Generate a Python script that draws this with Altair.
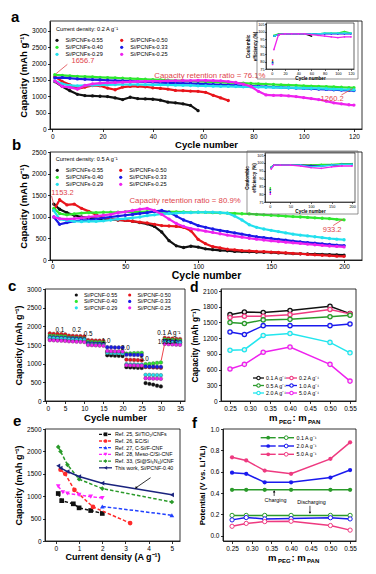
import altair as alt
import pandas as pd

FONT = "Liberation Sans"
RED_TXT = "#e0454b"

# ---------------- (a) cycling at 0.2 A/g ----------------
SAMPLES_A = ["Si/PCNFs-0.55", "Si/PCNFs-0.50", "Si/PCNFs-0.40",
             "Si/PCNFs-0.33", "Si/PCNFs-0.29", "Si/PCNFs-0.25"]
COLORS_6 = ["#111111", "#e8141b", "#2ee82e", "#1a1ae6", "#22e0ee", "#ee22ee"]
CYC_A = [1, 4, 7, 10, 13, 16, 19, 22, 25, 28, 31, 34, 37, 40, 43, 46, 49, 52, 55, 58,
         61, 64, 67, 70, 73, 76, 79, 82, 85, 88, 91, 94, 97, 100, 103, 106, 109, 112, 115, 118, 120]
A_055 = [1450, 1300, 1170, 1060, 1020, 1010, 1000, 990, 950, 900,
         970, 930, 920, 910, 880, 820, 800, 770, 720, 560]
A_050 = [1600, 1450, 1350, 1230, 1280, 1330, 1320, 1250, 1200, 1280,
         1300, 1300, 1290, 1260, 1240, 1220, 1180, 1170, 1160, 1150,
         1120, 1030, 950, 870]
A_040 = [1657, 1640, 1625, 1610, 1600, 1590, 1580, 1570, 1560, 1550,
         1540, 1530, 1520, 1510, 1500, 1490, 1480, 1470, 1460, 1455,
         1445, 1435, 1425, 1415, 1405, 1400, 1390, 1380, 1370, 1360,
         1350, 1340, 1330, 1320, 1310, 1300, 1295, 1285, 1275, 1265, 1260]
A_033 = [1560, 1570, 1550, 1530, 1520, 1510, 1500, 1490, 1480, 1470,
         1460, 1450, 1440, 1430, 1420, 1410, 1400, 1395, 1390, 1380,
         1370, 1360, 1350, 1340, 1330, 1320, 1310, 1300, 1290, 1280,
         1270, 1260, 1250, 1240, 1230, 1220, 1210, 1200, 1190, 1180, 1175]
A_029 = [1470, 1380, 1330, 1320, 1330, 1340, 1350, 1350, 1355, 1360,
         1360, 1360, 1355, 1350, 1350, 1345, 1340, 1335, 1330, 1320,
         1315, 1310, 1305, 1300, 1295, 1290, 1285, 1280, 1275, 1270,
         1265, 1260, 1255, 1250, 1245, 1240, 1230, 1220, 1210, 1200, 1195]
A_025 = [1470, 1300, 1270, 1220, 1330, 1380, 1400, 1410, 1420, 1430,
         1440, 1450, 1455, 1460, 1465, 1470, 1475, 1480, 1480, 1485,
         1485, 1480, 1470, 1450, 1420, 1370, 1300, 1150, 1040, 1030,
         1030, 1010, 990, 960, 930, 900, 850, 800, 770, 740, 730]
CAP_A = [A_055, A_050, A_040, A_033, A_029, A_025]

ICYC_A = [1, 3, 10, 20, 30, 40, 50, 60, 70, 80, 90, 100, 110, 120]
IA_055 = [79, 97, 98, 98.5, 98.5, 98.5, 98.5, 97]
IA_050 = [81, 97, 98, 98.5, 98.5, 98.5, 98.5, 98.5, 98.5]
IA_040 = [80, 97.5, 98.5, 98.5, 98.5, 98.5, 98.5, 98.5, 98.5, 99, 99, 99, 100, 99]
IA_033 = [79.5, 97, 98, 98.5, 98.5, 98.5, 98.5, 98.5, 98.5, 98.5, 98.5, 98.5, 98.5, 98.5]
IA_029 = [78.5, 97, 98, 98.5, 98.5, 98.5, 98.5, 98.5, 98.5, 99, 99, 99, 99, 99]
IA_025 = [78, 88, 98, 98.5, 98.5, 98.5, 98.5, 98, 97.5, 97, 96.5, 96, 96.5, 96.5]
CE_A = [IA_055, IA_050, IA_040, IA_033, IA_029, IA_025]

# ---------------- (b) cycling at 0.5 A/g ----------------
CYC_B = [1, 5, 10, 15, 20, 25, 30, 35, 40, 45, 50, 55, 60, 65, 70, 75, 80, 85, 90, 95,
         100, 105, 110, 115, 120, 125, 130, 135, 140, 145, 150, 155, 160, 165, 170, 175,
         180, 185, 190, 195, 200]
B_055 = [1300, 1180, 1100, 1040, 1000, 980, 960, 950, 940, 930,
         920, 900, 870, 840, 780, 650, 450, 330, 290, 320,
         300, 260, 240, 225, 215, 200, 195, 190, 185, 180,
         175, 165, 160, 150, 145, 140, 135, 130, 125, 120, 115]
B_050 = [1153, 1400, 1280, 1300, 1200, 1130, 1050, 980, 950, 930,
         920, 900, 880, 860, 830, 800, 790, 780, 760, 680,
         480, 380, 310, 280, 250, 235, 220, 210, 200, 195,
         185, 175, 165, 155, 145, 130, 120, 110, 100, 90, 85]
B_040 = [1200, 1080, 1050, 1070, 1090, 1100, 1100, 1110, 1110, 1110,
         1120, 1120, 1120, 1125, 1125, 1125, 1120, 1120, 1115, 1110,
         1110, 1105, 1100, 1095, 1090, 1085, 1075, 1070, 1060, 1050,
         1040, 1030, 1020, 1010, 1000, 990, 980, 970, 960, 945, 933]
B_033 = [1000, 830, 870, 900, 920, 930, 950, 980, 1000, 1020,
         1040, 1060, 1080, 1100, 1130, 1150, 1110, 1020, 930, 870,
         800, 760, 720, 690, 660, 630, 600, 570, 540, 520,
         500, 480, 460, 440, 420, 405, 390, 375, 360, 345, 335]
B_029 = [1150, 950, 920, 900, 890, 900, 900, 910, 930, 950,
         960, 980, 1000, 1030, 1050, 1070, 1080, 1090, 1100, 1100,
         1110, 1110, 1110, 1100, 1090, 1020, 930, 820, 760, 720,
         690, 660, 630, 600, 580, 560, 540, 520, 500, 485, 470]
B_025 = [1000, 960, 950, 960, 980, 1000, 1020, 1040, 1060, 1100,
         1120, 1150, 1180, 1200, 1150, 1060, 950, 850, 780, 730,
         700, 670, 640, 610, 580, 555, 530, 505, 485, 465,
         445, 430, 415, 400, 385, 370, 355, 340, 325, 315, 305]
CAP_B = [B_055, B_050, B_040, B_033, B_029, B_025]

ICYC_B = [1, 3, 10, 25, 50, 75, 100, 125, 150, 175, 200]
IB_055 = [83, 97, 98.5, 98.5, 98.5, 98.5, 98.5, 98.5, 98.5, 99, 99]
IB_050 = [82, 97, 98.5, 98.5, 98.5, 98.5, 98, 98.5, 98.5, 99, 99]
IB_040 = [84, 97.5, 98.5, 98.5, 98.5, 98.5, 98.5, 99, 99, 99.5, 99.5]
IB_033 = [81, 97, 98.5, 98.5, 98.5, 98.5, 98, 98, 98.5, 99, 99]
IB_029 = [82.5, 97, 98.5, 98.5, 98.5, 98.5, 97.5, 98, 98.5, 99, 99]
IB_025 = [80, 96, 98.5, 98.5, 98.5, 98, 97, 96.5, 97.5, 98, 98]
CE_B = [IB_055, IB_050, IB_040, IB_033, IB_029, IB_025]

# ---------------- (c) rate performance ----------------
SAMPLES_C = ["Si/PCNF-0.55", "Si/PCNF-0.50", "Si/PCNF-0.40",
             "Si/PCNF-0.33", "Si/PCNF-0.29", "Si/PCNF-0.25"]
CYC_C = list(range(1, 36))
C_055 = [1660, 1655, 1650, 1645, 1640, 1635, 1630, 1625, 1620, 1615,
         1570, 1565, 1560, 1555, 1550, 1225, 1220, 1215, 1210, 1205,
         905, 900, 895, 890, 885, 480, 460, 440, 410, 390,
         1600, 1590, 1580, 1575, 1570]
C_050 = [1810, 1800, 1795, 1790, 1785, 1750, 1745, 1740, 1735, 1730,
         1630, 1625, 1620, 1615, 1610, 1300, 1295, 1290, 1285, 1280,
         1110, 1105, 1100, 1095, 1090, 910, 905, 900, 895, 890,
         1690, 1680, 1670, 1665, 1660]
C_040 = [1750, 1745, 1740, 1735, 1730, 1700, 1695, 1690, 1685, 1680,
         1590, 1585, 1580, 1575, 1570, 1320, 1315, 1310, 1305, 1300,
         1270, 1275, 1280, 1285, 1290, 985, 995, 1005, 1020, 1033,
         1650, 1640, 1635, 1630, 1625]
C_033 = [1710, 1705, 1700, 1695, 1690, 1680, 1675, 1670, 1665, 1660,
         1550, 1545, 1540, 1535, 1530, 1440, 1440, 1435, 1435, 1430,
         1240, 1240, 1235, 1235, 1230, 925, 920, 920, 915, 915,
         1610, 1600, 1595, 1590, 1585]
C_029 = [1690, 1685, 1680, 1675, 1670, 1655, 1650, 1645, 1640, 1635,
         1520, 1515, 1510, 1505, 1500, 1290, 1285, 1280, 1280, 1275,
         985, 980, 980, 975, 975, 700, 700, 695, 695, 690,
         1580, 1570, 1565, 1560, 1555]
C_025 = [1630, 1625, 1620, 1615, 1610, 1600, 1595, 1590, 1585, 1580,
         1500, 1495, 1490, 1485, 1480, 1340, 1335, 1330, 1330, 1325,
         960, 955, 955, 950, 950, 610, 605, 600, 600, 595,
         1530, 1520, 1515, 1510, 1505]
CAP_C = [C_055, C_050, C_040, C_033, C_029, C_025]
RATE_LABELS = ["0.1", "0.2", "0.5", "1.0", "2.0", "5.0", "0.1 A g⁻¹"]

# ---------------- (d) capacity vs mass ratio ----------------
RATIO = [0.25, 0.286, 0.333, 0.40, 0.50, 0.55]
RATES_D = ["0.1 A g⁻¹", "0.2 A g⁻¹", "0.5 A g⁻¹", "1.0 A g⁻¹", "2.0 A g⁻¹", "5.0 A g⁻¹"]
COLORS_D = ["#111111", "#ee3a80", "#2a9a2a", "#1a1aee", "#22e6ee", "#ee22ee"]
D_01 = [1650, 1700, 1690, 1730, 1810, 1670]
D_02 = [1595, 1620, 1620, 1650, 1750, 1665]
D_05 = [1500, 1480, 1550, 1560, 1610, 1640]
D_10 = [1320, 1270, 1440, 1440, 1440, 1470]
D_20 = [970, 980, 1250, 1290, 1120, 920]
D_50 = [610, 700, 930, 1030, 700, 380]
CAP_D = [D_01, D_02, D_05, D_10, D_20, D_50]

# ---------------- (e) comparison with literature ----------------
REFS_E = ["Ref. 25, Si/TiO₂/CNFs", "Ref. 26, EC/Si", "Ref. 27, C-Si/F-CNF",
          "Ref. 28, Meso-C/Si-CNF", "Ref. 33, (Si@Si₃N₄)/CNF", "This work, Si/PCNF-0.40"]
COLORS_E = ["#111111", "#ff2a2a", "#2040ff", "#ff22ff", "#2a9a2a", "#1a237e"]
SHAPES_E = ["square", "circle", "triangle-up", "triangle-down", "diamond", "triangle-left"]
E_X = [[0.1, 0.25, 0.75, 1.0, 1.5, 2.0],
       [0.2, 0.4, 0.8, 1.6, 3.2],
       [2.0, 5.0],
       [0.1, 0.3, 0.5, 1.0, 1.5, 2.0],
       [0.1, 0.2, 0.5, 1.0, 2.0, 5.0],
       [0.1, 0.2, 0.5, 1.0, 2.0, 5.0]]
E_Y = [[1060, 900, 830, 740, 680, 615],
       [1590, 1500, 1140, 760, 400],
       [770, 575],
       [1220, 1090, 1060, 1030, 990, 960],
       [2100, 2000, 1700, 1380, 1170, 870],
       [1680, 1630, 1550, 1440, 1290, 1030]]

# ---------------- (f) charge / discharge potentials ----------------
RATES_F = ["0.1 A g⁻¹", "2.0 A g⁻¹", "5.0 A g⁻¹"]
COLORS_F = ["#2a9a2a", "#1a1aee", "#ee3a80"]
F_CHARGE = [[0.43, 0.43, 0.43, 0.43, 0.43, 0.43],
            [0.59, 0.58, 0.50, 0.50, 0.545, 0.615],
            [0.735, 0.705, 0.61, 0.58, 0.72, 0.875]]
F_DISCHARGE = [[0.19, 0.19, 0.19, 0.19, 0.19, 0.19],
               [0.148, 0.17, 0.157, 0.16, 0.168, 0.157],
               [0.088, 0.115, 0.132, 0.135, 0.095, 0.052]]

# ================= layout (pixels inside one shared canvas) =================
W, H = 317, 520
PANEL = {  # x0, y0, width, height
    "a": (5, 0, 312, 108),
    "b": (5, 131, 312, 108),
    "c": (0, 268, 140, 112),
    "d": (176, 268, 135, 112),
    "e": (0, 408, 135, 112),
    "f": (178, 408, 133, 112),
}


# ================= helpers =================
def one(t=""):
    return pd.DataFrame({"t": [t]})


def xy(xs, ys):
    return pd.DataFrame({"x": list(xs)[:len(ys)], "y": list(ys)})


def label(text, x, y, size=6, color="black", bold=False, align="left",
          baseline="middle"):
    return alt.Chart(one(text)).mark_text(
        fontSize=size, color=color, align=align, baseline=baseline, font=FONT,
        fontWeight="bold" if bold else "normal").encode(
        x=alt.value(x), y=alt.value(y), text="t:N")


def dlabel(text, x, y, size=7, color=RED_TXT, align="center"):
    return alt.Chart(one(text)).mark_text(
        fontSize=size, color=color, align=align, baseline="middle", font=FONT).encode(
        x=alt.datum(x), y=alt.datum(y), text="t:N")


def dline(x1, y1, x2, y2, color=RED_TXT, width=0.8):
    return alt.Chart(one()).mark_rule(color=color, strokeWidth=width).encode(
        x=alt.datum(x1), y=alt.datum(y1), x2=alt.datum(x2), y2=alt.datum(y2))


def dhead(x, y, angle, color="black", size=7):
    return alt.Chart(one()).mark_point(shape="triangle-up", filled=True, color=color,
                                       size=size, angle=angle, opacity=1).encode(
        x=alt.datum(x), y=alt.datum(y))


def lpoint(x, y, color, shape="circle", size=10, open_=False, sw=1.0):
    if open_:
        m = alt.Chart(one()).mark_point(shape=shape, size=size, filled=True, fill="white",
                                        stroke=color, strokeWidth=sw, opacity=1)
    else:
        m = alt.Chart(one()).mark_point(shape=shape, size=size, filled=True,
                                        color=color, opacity=1)
    return m.encode(x=alt.value(x), y=alt.value(y))


def lrule(x1, x2, y, color, width=1.3, dash=None):
    kw = dict(color=color, strokeWidth=width)
    if dash:
        kw["strokeDash"] = dash
    return alt.Chart(one()).mark_rule(**kw).encode(
        x=alt.value(x1), x2=alt.value(x2), y=alt.value(y))


def frame(x0, y0, x1, y1, stroke="black", sw=0.8):
    return alt.Chart(one()).mark_rect(stroke=stroke, strokeWidth=sw, fillOpacity=0).encode(
        x=alt.value(x0), x2=alt.value(x1), y=alt.value(y0), y2=alt.value(y1))


def axes(key, xdom, xticks, xtitle, ydom, yticks, ytitle, xfmt="d", yfmt="d",
         xts=9.5, yts=9, xtp=1, ytp=3, xlp=1.5):
    x0, y0, w, h = PANEL[key]
    xa = dict(orient="bottom", offset=-(H - (y0 + h)), values=xticks, title=xtitle,
              titleFontSize=xts, titlePadding=xtp, format=xfmt, labelPadding=xlp)
    ya = dict(orient="left", offset=-x0, values=yticks, title=ytitle,
              titleFontSize=yts, titlePadding=ytp, format=yfmt)
    X = alt.X("x:Q", scale=alt.Scale(domain=xdom, range=[x0, x0 + w], nice=False, zero=False),
              axis=alt.Axis(**xa))
    Y = alt.Y("y:Q", scale=alt.Scale(domain=ydom, range=[y0 + h, y0], nice=False, zero=False),
              axis=alt.Axis(**ya))
    return X, Y


def inset(cyc, ce_lists, xdom, xr, ydom, yr, xticks, outer):
    XI = alt.X("x:Q", scale=alt.Scale(domain=xdom, range=xr, nice=False, zero=False),
               axis=alt.Axis(orient="bottom", offset=-(H - yr[0]), values=xticks, format="d",
                             title="Cycle number", labelFontSize=3.8, titleFontSize=4.6,
                             tickSize=1.5, labelPadding=0.5, titlePadding=0.3,
                             domainWidth=0.6, tickWidth=0.6, zindex=2))
    YI = alt.Y("y:Q", scale=alt.Scale(domain=ydom, range=yr, nice=False, zero=False),
               axis=alt.Axis(orient="left", offset=-xr[0], format="d",
                             values=[75, 80, 85, 90, 95, 100, 105],
                             title=["Coulombic", "efficiency (%)"], labelFontSize=3.8,
                             titleFontSize=4.6, tickSize=1.5, labelPadding=0.5,
                             titlePadding=0.5, domainWidth=0.6, tickWidth=0.6, zindex=2))
    lay = [frame(*outer, stroke="#666666", sw=0.7),
           frame(xr[0], yr[1], xr[1], yr[0], stroke="black", sw=0.6)]
    for vals, col in zip(ce_lists, COLORS_6):
        d = xy(cyc, vals)
        lay.append(alt.Chart(d.iloc[1:]).mark_line(color=col, strokeWidth=1.3).encode(x=XI, y=YI))
        lay.append(alt.Chart(d).mark_circle(color=col, size=3, opacity=1).encode(x=XI, y=YI))
    return alt.layer(*lay)


def legend6(names, colors, x0, dx, y0, dy, tx, size=5.6):
    lay = []
    for i, (n, c) in enumerate(zip(names, colors)):
        r, k = divmod(i, 2)
        lay.append(lpoint(x0 + k * dx, y0 + r * dy, c, size=10))
        lay.append(label(n, x0 + k * dx + tx, y0 + r * dy, size=size))
    return lay


def pframe(key):
    x0, y0, w, h = PANEL[key]
    return frame(x0, y0, x0 + w, y0 + h)


# ================= panel a =================
ay0 = PANEL["a"][1]
XA, YA = axes("a", [-0.9, 123.2], list(range(0, 121, 20)), "Cycle number",
              [0, 3300], [0, 500, 1000, 1500, 2000, 2500, 3000], "Capacity (mAh g⁻¹)",
              xts=9.5, yts=9.5, xtp=0)
la = [pframe("a")]
for vals, col in zip(CAP_A, COLORS_6):
    d = xy(CYC_A, vals)
    la.append(alt.Chart(d).mark_line(color=col, strokeWidth=2.2).encode(x=XA, y=YA))
    la.append(alt.Chart(d).mark_circle(color=col, size=11, opacity=1).encode(x=XA, y=YA))
la += [
    dline(6.0, 1975, 1.5, 1690),
    dlabel("1656.7", 12.2, 2065, size=7.5),
    dlabel("Capacity retention ratio = 76.1%", 62.7, 1627, size=7.8),
    dline(115, 1040, 119.5, 1235),
    dlabel("1260.2", 111.3, 923, size=7.5),
    label("Current density: 0.2 A g⁻¹", 11, ay0 + 8, size=5.6),
    label("a", -34, ay0 + 1, size=15, bold=True, baseline="alphabetic"),
]
la += legend6(SAMPLES_A, COLORS_6, 12, 64.7, ay0 + 19.3, 7, 8.5)
ins_a = inset(ICYC_A, CE_A, [-9, 124.5], [221, 309], [75, 105.7], [48, 2],
              list(range(0, 121, 20)), (212, 0, 313, 58))
ga = alt.layer(*la)

# ================= panel b =================
by0 = PANEL["b"][1]
XB, YB = axes("b", [-1.6, 212.3], [0, 50, 100, 150, 200], "Cycle number",
              [0, 2510], [0, 500, 1000, 1500, 2000, 2500], "Capacity (mAh g⁻¹)",
              xts=10.5, yts=9.5, xtp=0, xlp=1)
lb = [pframe("b")]
for vals, col in zip(CAP_B, COLORS_6):
    d = xy(CYC_B, vals)
    lb.append(alt.Chart(d).mark_line(color=col, strokeWidth=2.2).encode(x=XB, y=YB))
    lb.append(alt.Chart(d).mark_circle(color=col, size=11, opacity=1).encode(x=XB, y=YB))
lb += [
    dline(-0.5, 1490, 1.2, 1250),
    dlabel("1153.2", 7.0, 1563, size=7.5),
    dlabel("Capacity retention ratio = 80.9%", 91, 1377, size=7.8),
    dline(192.5, 800, 199.5, 950),
    dlabel("933.2", 191.8, 704, size=7.5),
    label("Current density: 0.5 A g⁻¹", 10.7, by0 + 7.3, size=5.6),
    label("b", -33, by0 - 2, size=15, bold=True, baseline="alphabetic"),
]
lb += legend6(SAMPLES_A, COLORS_6, 12.3, 63.4, by0 + 18.3, 7, 8.5)
ins_b = inset(ICYC_B, CE_B, [-12, 207], [220, 310], [75, 106.3], [by0 + 50, by0 + 1],
              [0, 50, 100, 150, 200], (202, by0 - 1, 313, by0 + 62))
gb = alt.layer(*lb)

# ================= panel c =================
cx0, cy0 = PANEL["c"][:2]
XC, YC = axes("c", [-0.26, 36.3], [0, 5, 10, 15, 20, 25, 30, 35], "Cycle number",
              [0, 3000], [0, 500, 1000, 1500, 2000, 2500, 3000], "Capacity (mAh g⁻¹)",
              xts=9.5, yts=9, xtp=1)
lc = [pframe("c")]
for vals, col in zip(CAP_C, COLORS_6):
    d = xy(CYC_C, vals)
    lc.append(alt.Chart(d).mark_point(shape="circle", filled=True, fill=col, stroke="#333333",
                                      strokeWidth=0.3, size=14, opacity=1).encode(x=XC, y=YC))
RATE_POS = [(3.6, 1900), (8.0, 1900), (11.0, 1786), (15.7, 1607), (20.7, 1428),
            (25.7, 1133), (32.1, 1830)]
for t, (px, py) in zip(RATE_LABELS, RATE_POS):
    lc.append(dlabel(t, px, py, size=6.3, color="black"))
lc += [
    dlabel("1033.4", 31.7, 1580, size=6.3, color="black"),
    dline(30.9, 1490, 30.1, 1090, color="#e8141b", width=0.8),
    label("c", cx0 - 37, cy0 + 2, size=15, bold=True, baseline="alphabetic"),
]
lc += legend6(SAMPLES_C, COLORS_6, cx0 + 31.3, 53.4, cy0 + 6, 6.4, 7.7, size=5.4)
gc = alt.layer(*lc)

# ================= panel d =================
dx0, dy0 = PANEL["d"][:2]
XD, YD = axes("d", [0.2275, 0.565], [0.25, 0.30, 0.35, 0.40, 0.45, 0.50, 0.55], None,
              [0, 2140], [0, 300, 600, 900, 1200, 1500, 1800, 2100], "Capacity (mAh g⁻¹)",
              xfmt=".2f", yts=8.3)
ld = [pframe("d")]
for vals, col in zip(CAP_D, COLORS_D):
    d = xy(RATIO, vals)
    ld.append(alt.Chart(d).mark_line(color=col, strokeWidth=1.5).encode(x=XD, y=YD))
    ld.append(alt.Chart(d).mark_point(shape="circle", size=18, filled=True, fill="#eeeeee",
                                      stroke=col, strokeWidth=1.3, opacity=1).encode(x=XD, y=YD))
for i, (n, col) in enumerate(zip(RATES_D, COLORS_D)):
    r, k = divmod(i, 2)
    lx = dx0 + 32 + k * 33
    yy = dy0 + 89 + r * 7.5
    ld.append(lrule(lx, lx + 11, yy, col, width=1.3))
    ld.append(lpoint(lx + 5.5, yy, col, size=12, open_=True, sw=1.1))
    ld.append(label(n, lx + 13, yy, size=5.3))
ld += [
    label("d", dx0 - 31, dy0 + 3, size=14, bold=True, baseline="alphabetic"),
    label("m", dx0 + 48, dy0 + 132, size=9.5, bold=True, baseline="alphabetic"),
    label("PEG", dx0 + 58, dy0 + 134.5, size=6, bold=True, baseline="alphabetic"),
    label(": m", dx0 + 71.5, dy0 + 132, size=9.5, bold=True, baseline="alphabetic"),
    label("PAN", dx0 + 87, dy0 + 134.5, size=6, bold=True, baseline="alphabetic"),
]
gd = alt.layer(*ld)

# ================= panel e =================
ex0, ey0 = PANEL["e"][:2]
XE, YE = axes("e", [-0.47, 5.35], [0, 1, 2, 3, 4, 5], "Current density (A g⁻¹)",
              [0, 2500], [0, 500, 1000, 1500, 2000, 2500], "Capacity (mAh g⁻¹)",
              xts=9, yts=9, xtp=1)
le = [pframe("e")]
for i, (xs, ys, col, shp) in enumerate(zip(E_X, E_Y, COLORS_E, SHAPES_E)):
    d = xy(xs, ys)
    lk = dict(color=col, strokeWidth=1.5)
    if i < 5:
        lk["strokeDash"] = [3.5, 2]
    le.append(alt.Chart(d).mark_line(**lk).encode(x=XE, y=YE))
    le.append(alt.Chart(d).mark_point(shape=shp, size=22, filled=True, color=col,
                                      opacity=1).encode(x=XE, y=YE))
for i, (n, col, shp) in enumerate(zip(REFS_E, COLORS_E, SHAPES_E)):
    yy = ey0 + 5.3 + i * 6.7
    le.append(lrule(ex0 + 54, ex0 + 67, yy, col, width=1.3, dash=None if i == 5 else [3, 1.5]))
    le.append(lpoint(ex0 + 60.5, yy, col, shape=shp, size=14))
    le.append(label(n, ex0 + 70, yy, size=5.3))
le += [
    dline(4.08, 1413, 3.47, 1195, color="black", width=0.8),
    dhead(3.45, 1185, 226, color="black", size=8),
    label("e", ex0 - 32, ey0 - 3, size=15, bold=True, baseline="alphabetic"),
]
ge = alt.layer(*le)

# ================= panel f =================
fx0, fy0 = PANEL["f"][:2]
XF, YF = axes("f", [0.227, 0.565], [0.25, 0.30, 0.35, 0.40, 0.45, 0.50, 0.55], None,
              [-0.05, 1.0], [0.0, 0.2, 0.4, 0.6, 0.8, 1.0], "Potential (V vs. Li⁺/Li)",
              xfmt=".2f", yfmt=".1f", yts=7.8)
lf = [pframe("f")]
for ch, dis, col in zip(F_CHARGE, F_DISCHARGE, COLORS_F):
    d1 = xy(RATIO, ch)
    d2 = xy(RATIO, dis)
    lf.append(alt.Chart(d1).mark_line(color=col, strokeWidth=1.5).encode(x=XF, y=YF))
    lf.append(alt.Chart(d1).mark_point(shape="circle", size=18, filled=True, color=col,
                                       opacity=1).encode(x=XF, y=YF))
    lf.append(alt.Chart(d2).mark_line(color=col, strokeWidth=1.5).encode(x=XF, y=YF))
    lf.append(alt.Chart(d2).mark_point(shape="circle", size=18, filled=True, fill="white",
                                       stroke=col, strokeWidth=1, opacity=1).encode(x=XF, y=YF))
for i, (n, col) in enumerate(zip(RATES_F, COLORS_F)):
    yy = fy0 + 8.7 + i * 8.3
    lf.append(lrule(fx0 + 37.7, fx0 + 52.7, yy, col, width=1.4))
    lf.append(lpoint(fx0 + 45.2, yy, col, size=14))
    lf.append(lrule(fx0 + 55.3, fx0 + 71, yy, col, width=1.4))
    lf.append(lpoint(fx0 + 63.2, yy, col, size=14, open_=True))
    lf.append(label(n, fx0 + 73.5, yy, size=5.3))
lf += [
    dlabel("Charging", 0.3605, 0.334, size=5.4, color="black"),
    dline(0.357, 0.372, 0.357, 0.418, color="black", width=0.7),
    dhead(0.357, 0.415, 0, color="black", size=6),
    dlabel("Discharging", 0.452, 0.316, size=5.4, color="black"),
    dline(0.448, 0.28, 0.448, 0.215, color="black", width=0.7),
    dhead(0.448, 0.215, 180, color="black", size=6),
    label("f", fx0 - 31, fy0 - 1, size=15, bold=True, baseline="alphabetic"),
    label("m", fx0 + 45, fy0 + 131.5, size=9.5, bold=True, baseline="alphabetic"),
    label("PEG", fx0 + 55, fy0 + 134, size=6, bold=True, baseline="alphabetic"),
    label(": m", fx0 + 68.5, fy0 + 131.5, size=9.5, bold=True, baseline="alphabetic"),
    label("PAN", fx0 + 84, fy0 + 134, size=6, bold=True, baseline="alphabetic"),
]
gf = alt.layer(*lf)

# ================= assemble =================
chart = alt.layer(ga, ins_a, gb, ins_b, gc, gd, ge, gf).resolve_scale(
    x="independent", y="independent"
).resolve_axis(x="independent", y="independent").properties(
    width=W, height=H,
    padding={"left": 0, "top": 2, "right": 4, "bottom": 4},
    background="white",
).configure_axis(
    labelFont=FONT, titleFont=FONT, labelFontSize=6.5, titleFontWeight="bold",
    grid=False, tickColor="black", domainColor="black", labelColor="black",
    titleColor="black", tickSize=2.5, labelPadding=1.5, tickWidth=0.8, domainWidth=0.8,
).configure_view(stroke=None).configure_text(font=FONT)

chart.save("out.html", embed_options={"renderer": "svg", "actions": False})
